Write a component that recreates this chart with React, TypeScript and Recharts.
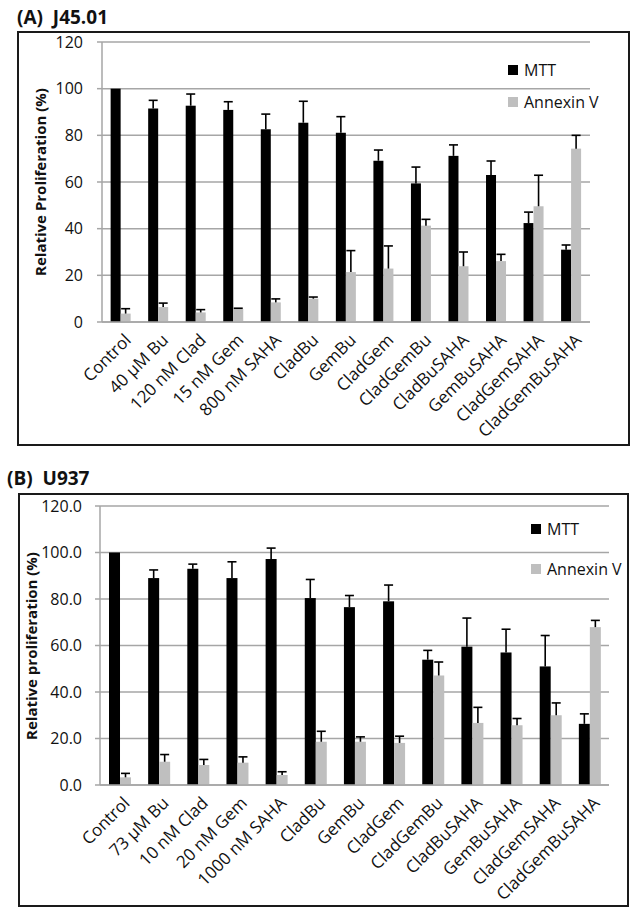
import React from 'react';
import { BarChart, Bar, XAxis, YAxis, CartesianGrid } from 'recharts';

// Panel A: J45.01
const categoriesA = ['Control', '40 µM Bu', '120 nM Clad', '15 nM Gem', '800 nM SAHA', 'CladBu', 'GemBu', 'CladGem', 'CladGemBu', 'CladBuSAHA', 'GemBuSAHA', 'CladGemSAHA', 'CladGemBuSAHA'];
const mttA = [100, 91.5, 92.7, 90.9, 82.6, 85.4, 81.1, 69.1, 59.4, 71.2, 63, 42.4, 31];
const mttErrA = [0, 3.5, 5.0, 3.5, 6.5, 9.2, 6.9, 4.6, 7.0, 4.7, 6.0, 4.7, 2.0];
const annexinA = [3.6, 6.4, 4.1, 5.6, 8.4, 10, 21.4, 22.9, 41.3, 23.9, 26.1, 49.6, 74.3];
const annexinErrA = [2.1, 1.7, 1.2, 0.3, 1.5, 0.7, 9.2, 9.7, 2.7, 6.1, 2.9, 13.3, 5.7];

// Panel B: U937
const categoriesB = ['Control', '73 µM Bu', '10 nM Clad', '20 nM Gem', '1000 nM SAHA', 'CladBu', 'GemBu', 'CladGem', 'CladGemBu', 'CladBuSAHA', 'GemBuSAHA', 'CladGemSAHA', 'CladGemBuSAHA'];
const mttB = [100, 89, 93, 89, 97.2, 80.4, 76.5, 79, 53.9, 59.5, 57, 51, 26.3];
const mttErrB = [0, 3.5, 2.0, 7.0, 4.7, 8.0, 5.0, 7.0, 4.0, 12.3, 10, 13.3, 4.3];
const annexinB = [3.3, 10, 8.6, 9.6, 4.3, 18.6, 18.6, 18.1, 47.1, 26.7, 25.7, 30, 67.9];
const annexinErrB = [1.7, 3.1, 2.4, 2.5, 1.4, 4.5, 2.1, 2.9, 5.8, 6.7, 2.9, 5.3, 2.9];

const yTicks = [0, 20, 40, 60, 80, 100, 120];
const seriesNames = ['MTT', 'Annexin V'];

const FONT = "'Open Sans', sans-serif";
const GRID = '#a6a6a6';
const BLACK = '#000000';
const GREY = '#bfbfbf';

const buildData = (cats: string[], mtt: number[], mttErr: number[], ann: number[], annErr: number[]) =>
  cats.map((name, i) => ({ name, mtt: mtt[i], mttErr: mttErr[i], annexin: ann[i], annexinErr: annErr[i] }));

// bar + upward-only error whisker (pixel size taken from the bar's own scale)
const barWithError = (errKey: string) => (props: any) => {
  const { x, y, width, height, fill, payload, value } = props;
  const v = Array.isArray(value) ? value[1] - value[0] : value;
  const err = payload[errKey] || 0;
  const pxPerUnit = v ? height / v : 0;
  const top = y - err * pxPerUnit;
  const cx = x + width / 2;
  return (
    <g>
      <rect x={x} y={y} width={width} height={height} fill={fill} />
      {err > 0 && (
        <g stroke="#000" strokeWidth={1.6}>
          <line x1={cx} x2={cx} y1={y} y2={top} />
          <line x1={cx - 4.5} x2={cx + 4.5} y1={top} y2={top} />
        </g>
      )}
    </g>
  );
};

function XTick({ x, y, payload }: any) {
  const ax = x + 7;
  const ay = y + 15;
  return (
    <text x={ax} y={ay} transform={`rotate(-45 ${ax} ${ay})`} textAnchor="end" dy="0.35em"
      fontSize={17} fontFamily={FONT} fill="#111">
      {payload.value}
    </text>
  );
}

interface PanelProps {
  title: string;
  titleX: number;
  titleY: number;
  box: { left: number; top: number; width: number; height: number };
  margin: { top: number; right: number };
  yWidth: number;
  xHeight: number;
  tickMargin: number;
  yLabel: string;
  yLabelX: number;
  data: any[];
  fmt: (v: number) => string;
  legendPos: { left: number; top: number; rowH: number };
}

function Panel(p: PanelProps) {
  const plotTop = p.margin.top;
  const plotH = p.box.height - p.margin.top - p.xHeight;
  const colors = [BLACK, GREY];
  return (
    <>
      <div style={{ position: 'absolute', left: p.titleX, top: p.titleY, fontFamily: FONT, fontWeight: 700,
        fontSize: 19, whiteSpace: 'pre', lineHeight: '22px', color: '#111' }}>
        {p.title}
      </div>
      <div style={{ position: 'absolute', left: p.box.left, top: p.box.top, width: p.box.width, height: p.box.height }}>
        <BarChart width={p.box.width} height={p.box.height} data={p.data}
          margin={{ top: p.margin.top, right: p.margin.right, bottom: 0, left: 0 }}
          barCategoryGap="23%" barGap={0}>
          <CartesianGrid vertical={false} stroke={GRID} strokeWidth={1.5} />
          <XAxis dataKey="name" interval={0} height={p.xHeight} tickLine={false} tickSize={0} tickMargin={0}
            axisLine={{ stroke: GRID, strokeWidth: 1.5 }} tick={<XTick />} />
          <YAxis domain={[0, 120]} ticks={yTicks} interval={0} width={p.yWidth} tickFormatter={p.fmt}
            axisLine={{ stroke: GRID, strokeWidth: 1.5 }} tickLine={{ stroke: GRID, strokeWidth: 1.5 }}
            tickSize={5} tickMargin={p.tickMargin}
            tick={{ fontSize: 16, fontFamily: FONT, fill: '#111' }} />
          <Bar dataKey="mtt" name={seriesNames[0]} fill={BLACK} isAnimationActive={false} shape={barWithError('mttErr')} />
          <Bar dataKey="annexin" name={seriesNames[1]} fill={GREY} isAnimationActive={false} shape={barWithError('annexinErr')} />
        </BarChart>
        <div style={{ position: 'absolute', left: p.legendPos.left, top: p.legendPos.top, fontFamily: FONT, fontSize: 16, color: '#111' }}>
          {seriesNames.map((n, i) => (
            <div key={n} style={{ display: 'flex', alignItems: 'center', height: p.legendPos.rowH, whiteSpace: 'nowrap' }}>
              <span style={{ width: 10, height: 10, background: colors[i], marginRight: 6, display: 'inline-block' }} />
              {n}
            </div>
          ))}
        </div>
        <div style={{ position: 'absolute', left: p.yLabelX, top: plotTop + plotH / 2, transform: 'translate(-50%, -50%) rotate(-90deg)',
          fontFamily: FONT, fontWeight: 700, fontSize: 15, whiteSpace: 'nowrap', color: '#111' }}>
          {p.yLabel}
        </div>
        <div style={{ position: 'absolute', inset: 0, border: '2px solid #1a1a1a', pointerEvents: 'none' }} />
      </div>
    </>
  );
}

export default function App() {
  const dataA = buildData(categoriesA, mttA, mttErrA, annexinA, annexinErrA);
  const dataB = buildData(categoriesB, mttB, mttErrB, annexinB, annexinErrB);
  return (
    <div style={{ position: 'absolute', left: 0, top: 0, width: 639, height: 918, background: '#fff', overflow: 'hidden' }}>
      <Panel title="(A)  J45.01" titleX={17} titleY={6}
        box={{ left: 17, top: 31, width: 613, height: 415 }}
        margin={{ top: 11, right: 40 }} yWidth={85} xHeight={124} tickMargin={14}
        yLabel="Relative Proliferation (%)" yLabelX={23}
        data={dataA} fmt={(v) => String(v)}
        legendPos={{ left: 491, top: 23, rowH: 32 }} />
      <Panel title="(B)  U937" titleX={7} titleY={467}
        box={{ left: 18, top: 493, width: 611, height: 414 }}
        margin={{ top: 13, right: 20 }} yWidth={82} xHeight={122} tickMargin={13}
        yLabel="Relative proliferation (%)" yLabelX={13}
        data={dataB} fmt={(v) => v.toFixed(1)}
        legendPos={{ left: 513, top: 16, rowH: 40 }} />
    </div>
  );
}
